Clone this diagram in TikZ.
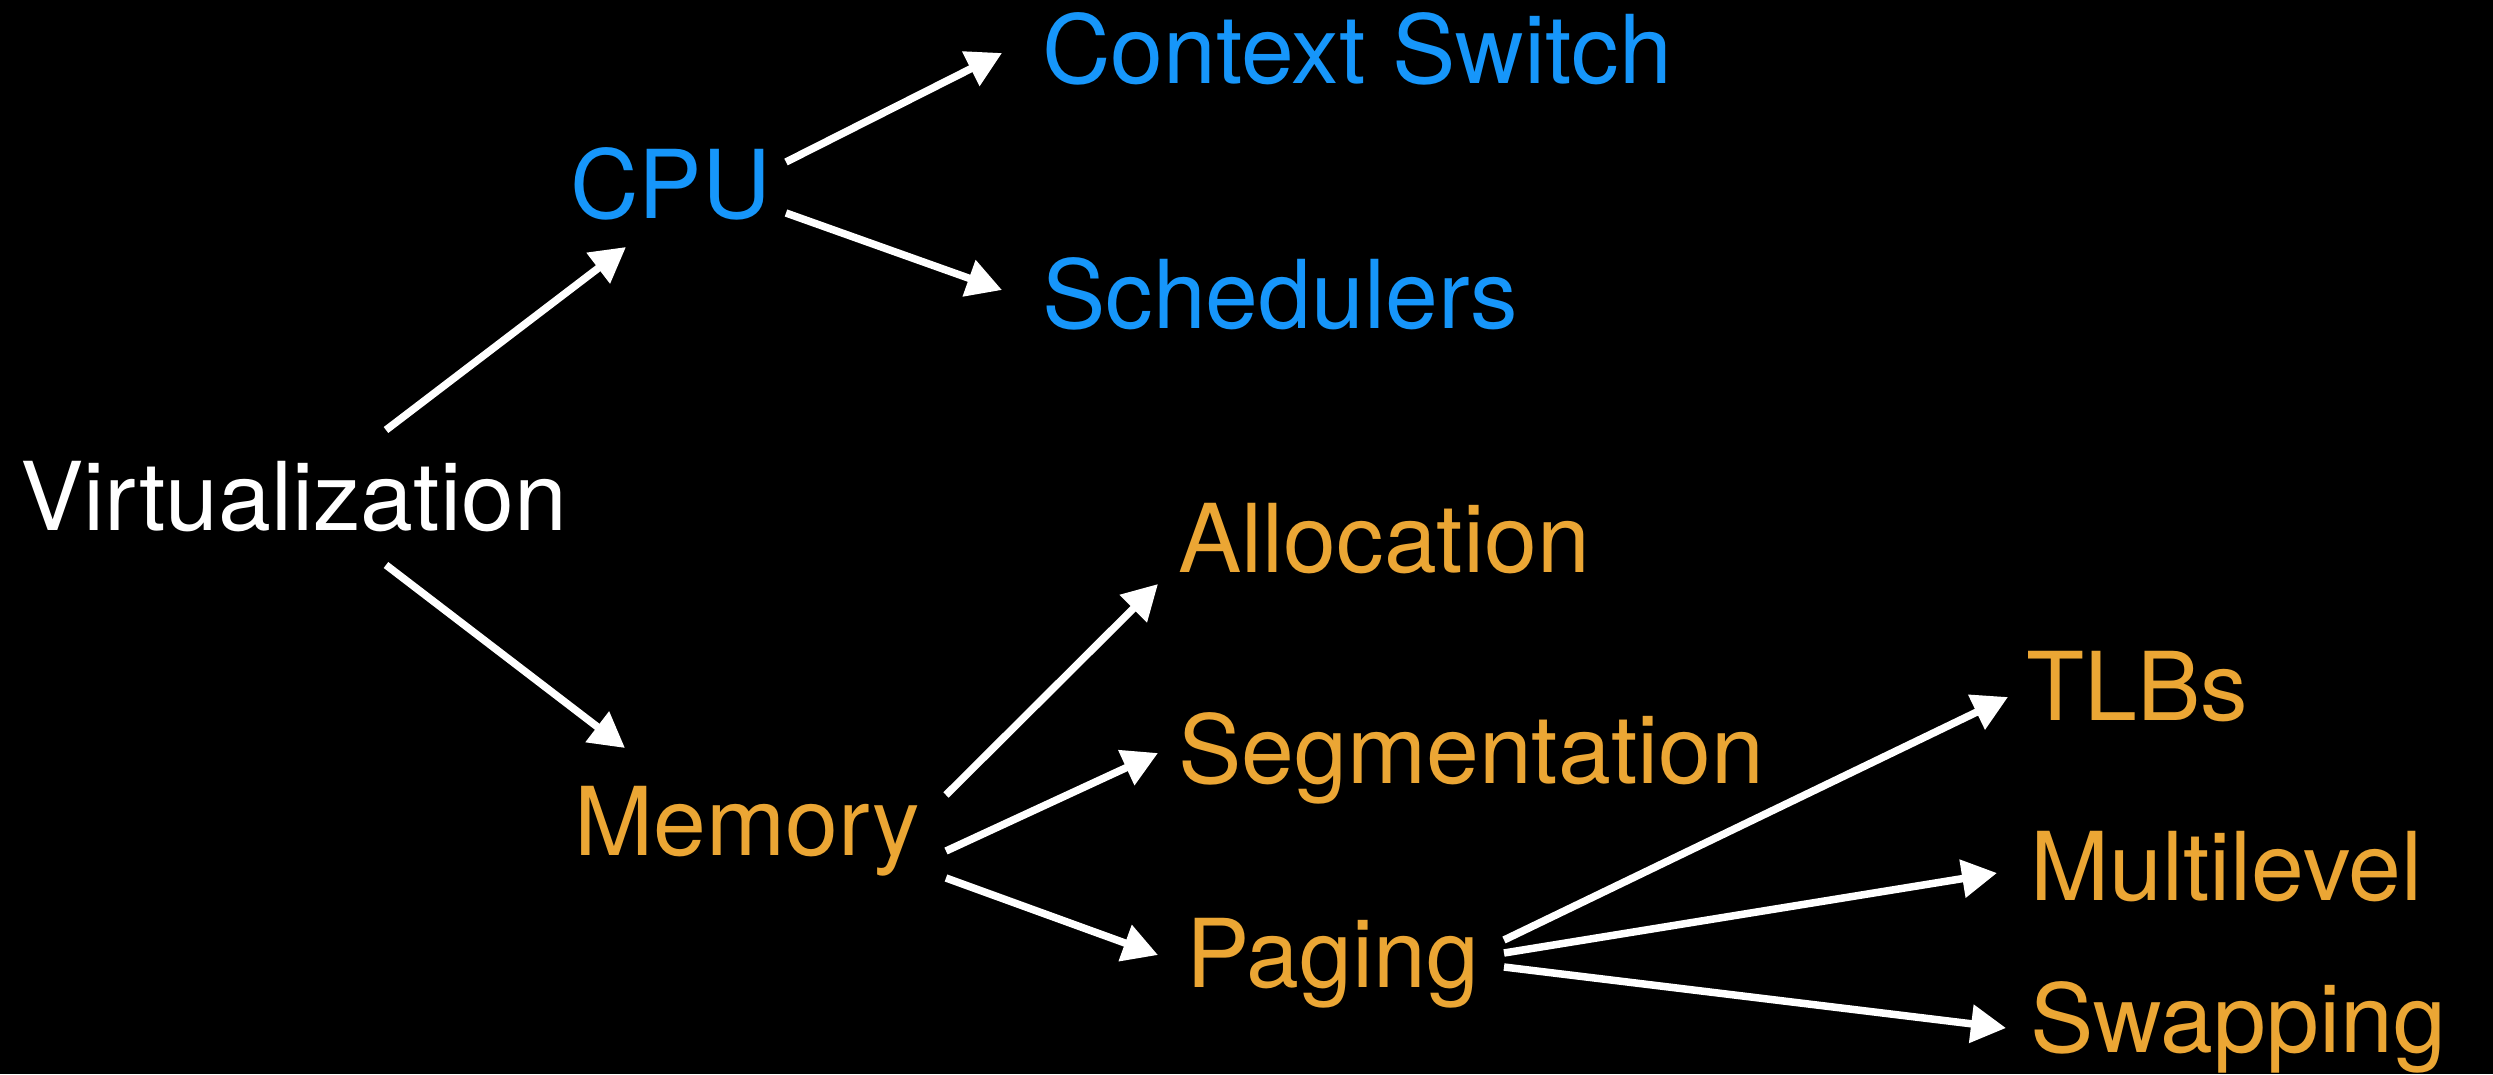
\documentclass[tikz,border=0pt]{standalone}
\usepackage{fontspec}
\setmainfont{TeX Gyre Heros}
\usetikzlibrary{arrows.meta}
\definecolor{cpublue}{RGB}{22,150,250}
\definecolor{memorange}{RGB}{235,166,52}
\tikzset{
  lbl/.style={anchor=base west, inner sep=0pt, font=\fontsize{95}{110}\selectfont},
  arr/.style={draw=white, line width=7.5pt, -{Triangle[length=35pt, width=37pt]}}
}
\begin{document}
\begin{tikzpicture}[x=1pt, y=-1pt]
  \fill[black] (0,0) rectangle (2493,1074);
  \useasboundingbox (0,0) rectangle (2493,1074);

  % topic nodes
  \node[lbl, text=white]      (virt)  at (20,530)   {Virtualization};
  \node[lbl, text=cpublue]    (cpu)   at (570,218)  {CPU};
  \node[lbl, text=cpublue]    (ctx)   at (1042,83)  {Context Switch};
  \node[lbl, text=cpublue]    (sched) at (1042,328) {Schedulers};
  \node[lbl, text=memorange]  (mem)   at (574,855)  {Memory};
  \node[lbl, text=memorange]  (alloc) at (1178,572) {Allocation};
  \node[lbl, text=memorange]  (seg)   at (1178,783) {Segmentation};
  \node[lbl, text=memorange]  (pag)   at (1186,987) {Paging};
  \node[lbl, text=memorange]  (tlb)   at (2026,720) {TLBs};
  \node[lbl, text=memorange]  (mul)   at (2030,900) {Multilevel};
  \node[lbl, text=memorange]  (swp)   at (2030,1052){Swapping};

  % connectors
  \draw[arr] ([shift={(366,-100)}]virt.base west) -- ([shift={(56,29)}]cpu.base west);
  \draw[arr] ([shift={(366,35)}]virt.base west)   -- ([shift={(51,-107)}]mem.base west);
  \draw[arr] ([shift={(216,-56)}]cpu.base west)   -- ([shift={(-40,-30)}]ctx.base west);
  \draw[arr] ([shift={(216,-5)}]cpu.base west)    -- ([shift={(-40,-38)}]sched.base west);
  \draw[arr] ([shift={(372,-60)}]mem.base west)   -- ([shift={(-20,12)}]alloc.base west);
  \draw[arr] ([shift={(372,-4)}]mem.base west)    -- ([shift={(-20,-30)}]seg.base west);
  \draw[arr] ([shift={(372,23)}]mem.base west)    -- ([shift={(-28,-32)}]pag.base west);
  \draw[arr] ([shift={(318,-47)}]pag.base west)   -- ([shift={(-18,-23)}]tlb.base west);
  \draw[arr] ([shift={(318,-34)}]pag.base west)   -- ([shift={(-33,-27)}]mul.base west);
  \draw[arr] ([shift={(318,-20)}]pag.base west)   -- ([shift={(-24,-24)}]swp.base west);
\end{tikzpicture}
\end{document}
